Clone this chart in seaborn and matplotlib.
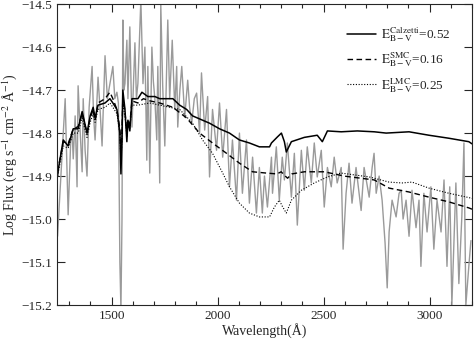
import matplotlib
matplotlib.use("Agg")
import matplotlib.pyplot as plt
from matplotlib.ticker import MultipleLocator
import seaborn as sns


obs_wave = [1245, 1255, 1267, 1281, 1295, 1307, 1314, 1319, 1328, 1337, 1342, 1352, 1361, 1366,
            1375, 1384, 1394, 1408, 1415, 1422, 1436, 1445, 1455, 1469, 1480, 1492, 1506, 1515,
            1525, 1532, 1539, 1544, 1549, 1553, 1558, 1563, 1572, 1577, 1586, 1596, 1610, 1617,
            1624, 1638, 1648, 1657, 1666, 1671, 1680, 1690, 1697, 1704, 1713, 1718, 1727, 1732,
            1741, 1751, 1765, 1774, 1786, 1798, 1807, 1812, 1822, 1831, 1845, 1859, 1868, 1878,
            1890, 1901, 1915, 1924, 1939, 1953, 1962, 1976, 1995, 2009, 2024, 2042, 2056, 2070,
            2089, 2103, 2117, 2136, 2150, 2165, 2183, 2197, 2211, 2221, 2235, 2254, 2259, 2277,
            2291, 2305, 2315, 2329, 2348, 2362, 2376, 2395, 2409, 2423, 2442, 2456, 2470, 2489,
            2503, 2518, 2536, 2550, 2564, 2583, 2592, 2606, 2620, 2634, 2653, 2677, 2691, 2715,
            2729, 2738, 2748, 2762, 2776, 2790, 2800, 2809, 2823, 2842, 2856, 2866, 2875, 2889,
            2903, 2917, 2936, 2950, 2959, 2973, 2988, 3006, 3020, 3035, 3054, 3068, 3082, 3095,
            3105, 3124, 3138, 3152, 3162, 3171, 3185, 3195]
obs_flux = [-15.04, -14.95, -14.84, -14.72, -14.99, -14.82, -14.80, -14.86, -14.76, -14.925, -14.69,
            -14.80, -14.89, -14.72, -14.84, -14.90, -14.74, -14.645, -14.76, -14.816, -14.67,
            -14.74, -14.83, -14.62, -14.72, -14.685, -14.645, -14.72, -14.705, -14.73, -15.10,
            -15.21, -15.00, -14.537, -14.70, -14.685, -14.584, -14.72, -14.553, -14.786, -14.59,
            -14.72, -14.685, -14.49, -14.685, -14.60, -14.863, -14.645, -14.893, -14.60, -14.68,
            -14.72, -14.816, -14.645, -14.916, -14.50, -14.69, -14.83, -14.537, -14.72, -14.584,
            -14.745, -14.645, -14.786, -14.70, -14.645, -14.763, -14.677, -14.74, -14.777, -14.72,
            -14.707, -14.80, -14.66, -14.793, -14.715, -14.902, -14.745, -14.84, -14.73, -14.856,
            -14.745, -14.925, -14.816, -14.956, -14.80, -14.94, -14.816, -14.963, -14.856, -14.986,
            -14.88, -14.986, -14.90, -14.972, -14.856, -14.94, -14.832, -14.956, -14.856, -14.909,
            -14.823, -14.949, -14.847, -15.014, -14.84, -14.933, -14.832, -14.916, -14.823, -14.902,
            -14.84, -14.972, -14.88, -14.925, -14.856, -14.916, -14.88, -15.07, -14.94, -14.87,
            -14.963, -14.88, -14.98, -14.88, -14.949, -14.88, -14.847, -14.94, -14.90, -14.956,
            -15.056, -15.16, -15.03, -14.956, -14.995, -14.94, -14.933, -15.00, -14.956, -15.04,
            -14.933, -15.02, -14.956, -15.11, -14.94, -15.03, -14.925, -15.07, -14.956, -15.03,
            -14.909, -15.11, -14.925, -15.20, -14.916, -15.15, -14.995, -14.823, -15.20, -15.11,
            -15.05]

# Calzetti model (solid)
calz_wave = [1245, 1250, 1272, 1295, 1319, 1342, 1361, 1384, 1399, 1413, 1422, 1436, 1469, 1492,
             1506, 1525, 1539, 1544, 1549, 1553, 1563, 1572, 1577, 1586, 1596, 1624, 1643, 1671,
             1704, 1727, 1751, 1789, 1821, 1854, 1882, 1929, 1962, 2009, 2056, 2103, 2150, 2197,
             2245, 2254, 2282, 2301, 2315, 2324, 2348, 2409, 2470, 2494, 2518, 2583, 2659, 2739,
             2795, 2903, 2997, 3091, 3185, 3200]
calz_flux = [-14.90, -14.88, -14.816, -14.83, -14.79, -14.79, -14.75, -14.80, -14.76, -14.74, -14.765,
             -14.735, -14.73, -14.72, -14.73, -14.745, -14.80, -14.895, -14.81, -14.70, -14.745,
             -14.82, -14.77, -14.795, -14.72, -14.72, -14.705, -14.715, -14.715, -14.72, -14.72,
             -14.72, -14.735, -14.745, -14.76, -14.77, -14.777, -14.79, -14.80, -14.816, -14.823,
             -14.832, -14.832, -14.823, -14.809, -14.80, -14.82, -14.844, -14.82, -14.81, -14.805,
             -14.82, -14.795, -14.797, -14.795, -14.797, -14.80, -14.797, -14.805, -14.812, -14.82,
             -14.825]

# SMC model (dashed)
smc_wave = [1245, 1272, 1295, 1319, 1342, 1361, 1384, 1399, 1413, 1422, 1436, 1469, 1492, 1506,
            1525, 1539, 1544, 1549, 1553, 1563, 1572, 1577, 1586, 1596, 1624, 1650, 1680, 1727,
            1789, 1854, 1915, 1976, 2042, 2103, 2165, 2230, 2280, 2300, 2315, 2330, 2350, 2409,
            2503, 2597, 2739, 2809, 2903, 2997, 3091, 3185, 3200]
smc_flux = [-14.89, -14.82, -14.825, -14.79, -14.785, -14.755, -14.80, -14.765, -14.745, -14.77,
            -14.73, -14.72, -14.705, -14.72, -14.745, -14.79, -14.86, -14.80, -14.715, -14.75,
            -14.80, -14.77, -14.78, -14.725, -14.73, -14.72, -14.725, -14.73, -14.74, -14.765,
            -14.80, -14.823, -14.847, -14.87, -14.89, -14.893, -14.895, -14.89, -14.898, -14.905,
            -14.895, -14.89, -14.89, -14.90, -14.909, -14.928, -14.937, -14.949, -14.96, -14.974,
            -14.977]

# LMC model (dotted)
lmc_wave = [1245, 1272, 1295, 1319, 1342, 1361, 1384, 1399, 1413, 1422, 1436, 1469, 1492, 1506,
            1525, 1539, 1544, 1549, 1553, 1563, 1572, 1577, 1586, 1596, 1624, 1680, 1727, 1821,
            1882, 1929, 1976, 2024, 2056, 2103, 2150, 2197, 2245, 2268, 2291, 2305, 2324, 2348,
            2395, 2456, 2518, 2583, 2715, 2809, 2870, 2917, 2997, 3091, 3185, 3200]
lmc_flux = [-14.90, -14.83, -14.835, -14.80, -14.80, -14.765, -14.81, -14.775, -14.755, -14.775,
            -14.745, -14.74, -14.73, -14.74, -14.755, -14.80, -14.87, -14.81, -14.73, -14.76,
            -14.81, -14.78, -14.79, -14.735, -14.735, -14.73, -14.735, -14.745, -14.777, -14.816,
            -14.847, -14.893, -14.925, -14.963, -14.986, -14.995, -14.995, -14.972, -14.956,
            -14.97, -14.986, -14.956, -14.933, -14.916, -14.902, -14.893, -14.902, -14.914,
            -14.916, -14.914, -14.928, -14.94, -14.95, -14.952]

labels = [r'$\mathrm{E^{Calzetti}_{B-V}}$=0.52',
          r'$\mathrm{E^{SMC}_{B-V}}$=0.16',
          r'$\mathrm{E^{LMC}_{B-V}}$=0.25']


def create_plot():
    sns.set_style("ticks")
    plt.rcParams['font.family'] = ['Liberation Serif', 'DejaVu Serif']
    plt.rcParams['mathtext.fontset'] = 'stix'

    fig = plt.figure(figsize=(4.76, 3.42), dpi=100)
    ax = fig.add_axes([0.12, 0.108, 0.8716, 0.880])

    sns.lineplot(x=obs_wave, y=obs_flux, color='#9a9a9a', lw=1.0, ax=ax)
    sns.lineplot(x=calz_wave, y=calz_flux, color='black', lw=1.1, ax=ax, label=labels[0])
    sns.lineplot(x=smc_wave, y=smc_flux, color='black', lw=1.0, ls=(0, (4, 2.5)), ax=ax,
                 label=labels[1])
    sns.lineplot(x=lmc_wave, y=lmc_flux, color='black', lw=0.8, ls=(0, (1, 1.5)), ax=ax,
                 label=labels[2])

    ax.set_xlim(1243, 3200)
    ax.set_ylim(-15.2, -14.5)
    ax.xaxis.set_major_locator(MultipleLocator(500))
    ax.xaxis.set_minor_locator(MultipleLocator(100))
    ax.yaxis.set_major_locator(MultipleLocator(0.1))
    ax.yaxis.set_major_formatter(plt.FuncFormatter(lambda v, p: f'{v:.1f}'.replace('-', '\u2212')))
    ax.tick_params(which='both', direction='in', top=True, right=True, labelsize=9.5, width=0.8)
    ax.tick_params(which='major', length=6)
    ax.tick_params(which='minor', length=3)
    for s in ax.spines.values():
        s.set_linewidth(0.8)

    ax.set_xlabel('Wavelength(Å)', fontsize=10, labelpad=1)
    ax.set_ylabel(r'Log Flux (erg s$^{-1}$ cm$^{-2}$ Å$^{-1}$)', fontsize=10, labelpad=2)

    ax.legend(loc='upper right', frameon=False, fontsize=9.5, handlelength=2.2,
              borderaxespad=1.2, labelspacing=0.5, handletextpad=0.4)

    fig.savefig('out.png', dpi=100)


def main():
    create_plot()


if __name__ == "__main__":
    main()
